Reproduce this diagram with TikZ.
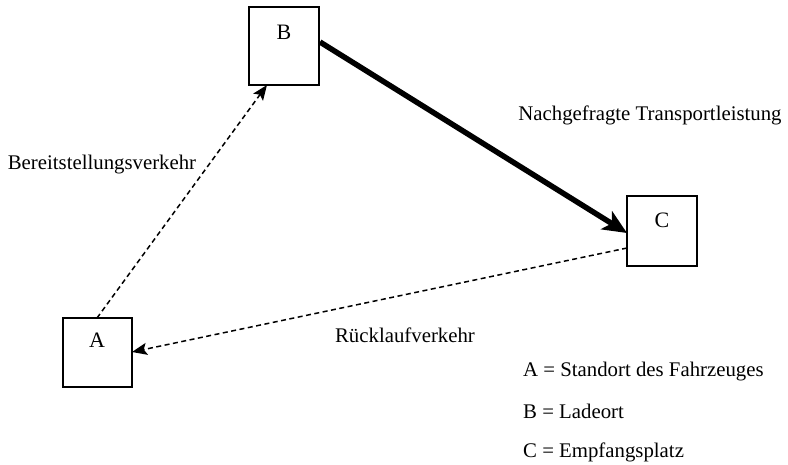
\documentclass[tikz,border=0pt]{standalone}
\usepackage{fontspec}
\setmainfont{Liberation Serif}
\usetikzlibrary{arrows.meta}
\begin{document}
\begin{tikzpicture}[x=1pt,y=-1pt,
  box/.style={draw,line width=1.3pt,minimum width=70pt,minimum height=70pt,inner sep=0pt},
  lbl/.style={font=\fontsize{20.8}{24}\selectfont,inner sep=0pt},
  letter/.style={font=\fontsize{22}{24}\selectfont,inner sep=0pt},
  dashline/.style={line width=1.5pt,dash pattern=on 5pt off 3.5pt,-{Stealth[length=15pt,width=12pt,inset=3pt]}},
  thickline/.style={line width=5.5pt,-{Stealth[length=24pt,width=21pt,inset=6pt]}}]
\useasboundingbox (0,0) rectangle (788,464);
\node[box,minimum height=78pt] (B) at (284,46) {};
\node[box,minimum width=69pt,minimum height=69pt] (A) at (97.5,352.5) {};
\node[box] (C) at (662,231) {};
\node[letter] (Bt) at (284,32) {B};
\node[letter] (At) at (97,340) {A};
\node[letter] (Ct) at (662,220) {C};
\coordinate (a1) at (97,318);
\coordinate (b1) at (267,85);
\coordinate (b2) at (320,42);
\coordinate (c1) at (627,233);
\coordinate (c2) at (627,248);
\coordinate (a2) at (132,352);
\draw[dashline] (a1) -- (b1);
\draw[thickline] (b2) -- (c1);
\draw[dashline] (c2) -- (a2);
\node[lbl] (l1) at (102,165) {Bereitstellungsverkehr};
\node[lbl] (l2) at (650,115) {Nachgefragte Transportleistung};
\node[lbl] (l3) at (405,335) {Rücklaufverkehr};
\node[lbl,anchor=west] (g1) at (523,372) {A = Standort des Fahrzeuges};
\node[lbl,anchor=west] (g2) at (523,411) {B = Ladeort};
\node[lbl,anchor=west] (g3) at (523,452) {C = Empfangsplatz};
\end{tikzpicture}
\end{document}
